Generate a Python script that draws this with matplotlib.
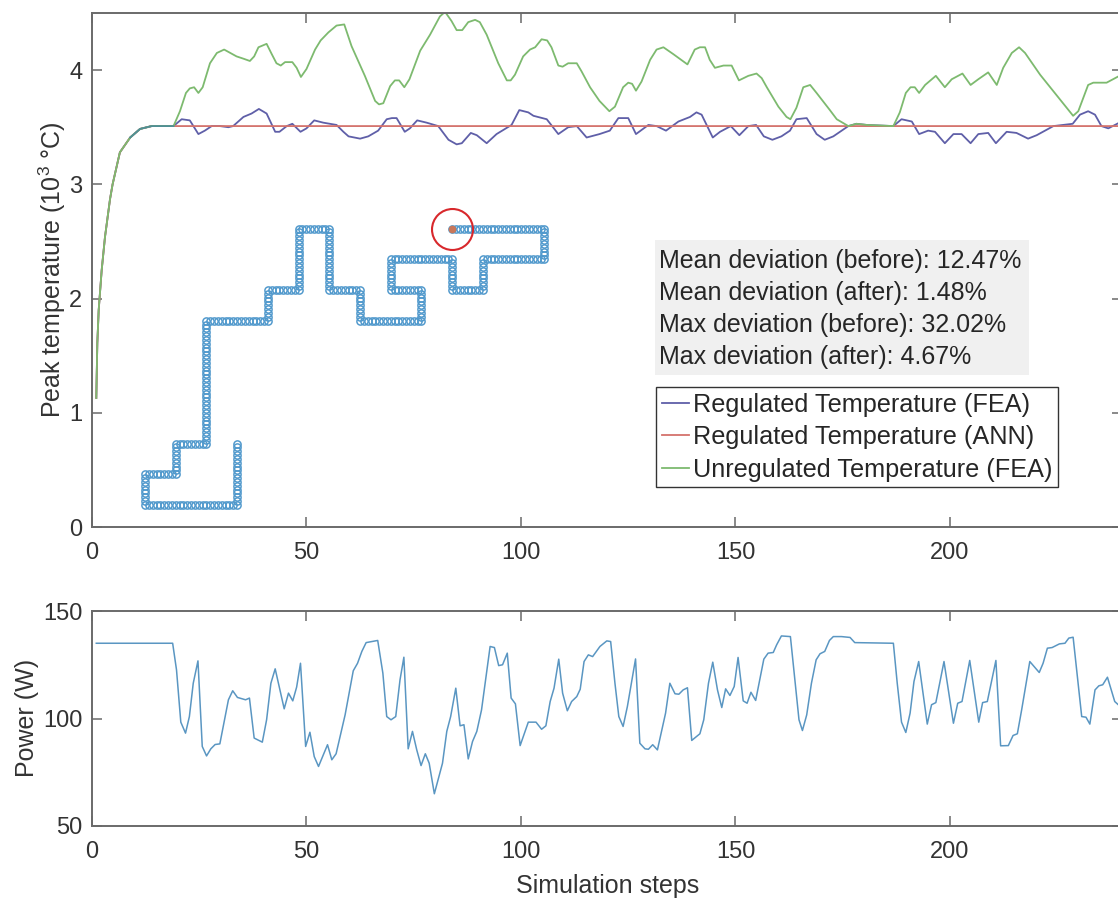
import numpy as np
import matplotlib
matplotlib.use('Agg')
import matplotlib.pyplot as plt

plt.rcParams['font.family'] = ['Liberation Sans', 'DejaVu Sans']
plt.rcParams['mathtext.default'] = 'regular'

# Peak temperature, shared warm-up part (steps, 10^3 C)
rise_x = [1, 1.24, 1.56, 2.26, 3.03, 4.2, 4.8, 6.5, 8.9, 11.2, 13.9, 19]
rise_y = [1.13, 1.61, 1.90, 2.25, 2.54, 2.87, 3.0, 3.28, 3.41, 3.485, 3.51, 3.51]

# Unregulated temperature (FEA)
green_x = [20.5, 21.9, 22.8, 23.8, 24.8, 25.8, 27.5, 29.1, 30.8, 33.7, 35.3, 36.8, 37.8, 38.8, 40.7, 41.9, 43.0,
           44.0, 45.0, 46.7, 47.7, 48.7, 50.0, 52.0, 53.3, 55.1, 57.0, 58.8, 60.5, 63.6, 66.0, 66.9, 67.9, 69.5,
           70.6, 71.6, 72.8, 74.0, 76.5, 78.8, 81.1, 82.3, 83.8, 85.0, 86.3, 87.7, 89.3, 90.4, 92.0, 94.7, 96.7,
           97.6, 98.6, 100.5, 102.1, 103.3, 104.8, 106.1, 107.1, 108.7, 109.7, 111.0, 113.0, 114.1, 116.1, 118.3,
           120.6, 121.9, 123.8, 125.0, 125.9, 126.8, 128.1, 130.1, 131.6, 133.2, 135.5, 138.8, 140.5, 141.7, 142.9,
           144.0, 145.2, 147.2, 149.1, 150.8, 153.0, 154.9, 156.1, 157.3, 160.0, 161.9, 162.8, 164.2, 165.8, 167.4,
           168.9, 172.0, 173.6, 176.3, 178.2, 180.6, 186.8, 188.3, 189.7, 190.8, 191.8, 192.8, 194.2, 196.7, 198.8,
           200.4, 202.9, 204.8, 206.6, 208.9, 210.9, 212.4, 214.4, 216.1, 217.5, 221.0, 228.7, 229.9, 232.2, 233.4,
           236.5, 240]
green_y = [3.64, 3.80, 3.84, 3.85, 3.80, 3.85, 4.06, 4.15, 4.18, 4.12, 4.10, 4.08, 4.12, 4.20, 4.23, 4.14, 4.06,
           4.04, 4.07, 4.07, 4.02, 3.94, 4.01, 4.18, 4.26, 4.33, 4.39, 4.40, 4.21, 3.95, 3.73, 3.70, 3.71, 3.86,
           3.91, 3.91, 3.85, 3.92, 4.17, 4.31, 4.47, 4.51, 4.43, 4.35, 4.35, 4.42, 4.44, 4.42, 4.31, 4.06, 3.91,
           3.91, 3.96, 4.12, 4.18, 4.20, 4.27, 4.26, 4.20, 4.04, 4.03, 4.06, 4.06, 3.99, 3.85, 3.73,
           3.64, 3.68, 3.85, 3.89, 3.88, 3.82, 3.90, 4.09, 4.18, 4.20, 4.14, 4.05, 4.18, 4.20, 4.20,
           4.09, 4.02, 4.04, 4.04, 3.91, 3.95, 3.97, 3.93, 3.85, 3.68, 3.59, 3.57, 3.67, 3.85, 3.87,
           3.80, 3.65, 3.57, 3.51, 3.53, 3.52, 3.51, 3.63, 3.80, 3.85, 3.85, 3.80, 3.87, 3.95, 3.85,
           3.92, 3.97, 3.87, 3.92, 3.98, 3.87, 4.02, 4.15, 4.20, 4.15, 3.96, 3.60, 3.64, 3.87, 3.89,
           3.89, 3.96]

# Regulated temperature (FEA)
blue_x = [20.9, 22.8, 24.8, 26.3, 27.9, 29.8, 31.8, 32.9, 35.3, 37.2, 38.9, 40.7, 42.7, 43.7, 45.4, 46.7, 48.6,
          50.0, 51.8, 53.9, 57.0, 58.6, 59.8, 62.5, 64.4, 66.7, 68.7, 69.9, 71.0, 72.9, 74.1, 75.8, 78.0, 80.7,
          83.1, 85.0, 86.2, 88.3, 89.7, 92.0, 94.3, 97.8, 99.6, 101.7, 102.9, 106.0, 108.7, 111.0, 113.0, 115.3,
          118.3, 120.7, 122.7, 125.0, 126.8, 129.7, 131.6, 133.8, 136.7, 139.4, 140.9, 142.1, 144.7, 146.4, 148.9,
          150.9, 153.0, 154.8, 156.6, 158.6, 160.7, 162.7, 164.2, 166.6, 168.9, 170.8, 172.8, 176.3, 178.2, 180.6,
          186.8, 188.7, 191.1, 192.8, 194.9, 196.5, 198.8, 200.8, 202.7, 204.8, 206.6, 208.9, 210.7, 213.2, 215.5,
          218.2, 220.2, 224.1, 228.6, 230.3, 232.2, 233.8, 235.3, 236.9, 240]
blue_y = [3.57, 3.56, 3.44, 3.47, 3.51, 3.51, 3.50, 3.51, 3.59, 3.62, 3.66, 3.62, 3.46, 3.46, 3.51, 3.53, 3.46,
          3.49, 3.56, 3.54, 3.52, 3.46, 3.42, 3.40, 3.42, 3.47, 3.57, 3.58, 3.58, 3.46, 3.49, 3.56, 3.54, 3.51,
          3.39, 3.35, 3.36, 3.45, 3.43, 3.36, 3.44, 3.52, 3.65, 3.63, 3.60, 3.57, 3.44, 3.50, 3.51, 3.41,
          3.44, 3.47, 3.58, 3.58, 3.44, 3.52, 3.51, 3.47, 3.55, 3.59, 3.63, 3.61, 3.41, 3.46, 3.51,
          3.43, 3.51, 3.52, 3.42, 3.39, 3.42, 3.47, 3.57, 3.58, 3.44, 3.39, 3.42, 3.51, 3.53, 3.52,
          3.51, 3.57, 3.55, 3.44, 3.47, 3.46, 3.36, 3.44, 3.44, 3.36, 3.44, 3.45, 3.36, 3.46, 3.45,
          3.40, 3.43, 3.51, 3.53, 3.61, 3.64, 3.61, 3.51, 3.49, 3.55]

# Regulated temperature (ANN) sits on the set point
red_x = [19, 240]
red_y = [3.51, 3.51]

# Laser power
power_x = [1, 18.8, 19.7, 20.7, 21.8, 22.7, 23.6, 24.7, 25.7, 26.7, 27.7, 28.7, 29.8, 31.8, 32.8, 33.9, 35.8, 36.7,
           37.8, 39.7, 40.7, 41.7, 42.7, 44.8, 45.8, 46.8, 47.7, 48.6, 49.8, 50.8, 51.8, 52.8, 54.9, 55.9, 56.9,
           59.0, 60.9, 61.9, 62.9, 63.9, 66.6, 67.8, 68.7, 69.7, 70.8, 71.8, 72.7, 73.7, 74.7, 75.7, 76.7, 77.7,
           78.6, 79.8, 81.7, 82.7, 83.6, 84.8, 85.8, 86.7, 87.7, 88.7, 89.7, 90.8, 92.8, 93.8, 94.8, 95.7, 96.8,
           97.7, 98.7, 99.8, 101.7, 103.5, 104.8, 105.8, 106.8, 107.7, 108.8, 109.7, 110.8, 111.8, 113.0, 113.8,
           114.7, 115.7, 116.7, 118.4, 120.0, 120.9, 121.9, 122.8, 123.8, 124.8, 126.7, 127.7, 128.9, 129.7, 130.7,
           131.8, 133.7, 134.7, 135.9, 136.8, 137.8, 138.8, 139.8, 141.7, 142.6, 143.7, 144.7, 145.8, 146.8, 147.7,
           148.7, 149.7, 150.6, 151.8, 152.7, 153.6, 154.7, 156.6, 157.6, 158.8, 159.6, 160.7, 162.8, 164.8, 165.6,
           166.6, 167.7, 168.8, 169.7, 170.8, 171.9, 172.8, 174.7, 176.7, 177.8, 186.8, 187.7, 188.7, 189.7, 190.7,
           191.6, 192.7, 194.7, 195.7, 196.7, 198.6, 200.8, 201.8, 202.8, 204.6, 206.7, 207.6, 208.7, 210.7, 211.8,
           213.6, 214.7, 215.7, 216.7, 218.6, 220.8, 221.7, 222.7, 223.8, 225.5, 226.8, 227.7, 228.7, 230.7, 231.7,
           232.6, 233.8, 234.7, 235.6, 236.7, 238.4, 240]
power_y = [135, 135, 122.6, 98.3, 93.2, 100.9, 116.4, 126.8, 87.0, 82.6, 85.9, 87.9, 88.2, 108.7, 112.9, 109.8, 108.7, 109.5,
           90.9, 89.0, 99.4, 116.4, 123.1, 104.5, 111.8, 108.2, 114.6, 125.7, 87.0, 93.6, 82.3, 77.7, 87.8, 80.8, 83.6,
           101.7, 122.2, 125.7, 131.2, 135.3, 136.3, 121.1, 100.9, 99.4, 100.9, 118.0, 128.5, 85.9, 94.0, 85.4, 78.1, 83.6,
           79.2, 65.0, 79.2, 94.0, 100.9, 114.1, 96.6, 97.1, 81.2, 89.3, 94.0, 104.0, 133.5, 133.0, 124.6, 125.0, 130.4,
           109.5, 106.8, 87.4, 98.3, 98.3, 95.0, 96.6, 107.9, 114.1, 127.6, 111.8, 103.6, 107.9, 110.2, 113.6,
           126.5, 129.6, 128.8, 133.5, 136.1, 135.8, 116.4, 100.9, 96.3, 105.6, 127.7, 88.5, 85.9, 85.7, 87.8,
           85.4, 102.5, 116.4, 111.5, 111.3, 113.3, 114.3, 89.8, 92.9, 99.4, 116.4, 126.2, 113.3, 105.1, 113.8,
           110.7, 114.9, 128.4, 108.2, 107.1, 112.2, 108.4, 127.6, 130.4, 130.7, 134.3, 138.4, 138.1, 99.4, 94.4,
           101.7, 116.4, 127.3, 130.1, 131.2, 136.3, 138.1, 138.1, 137.7, 135.3, 135, 116.4, 98.3, 93.5, 102.5,
           117.2, 126.5, 97.4, 106.4, 107.4, 126.5, 97.8, 107.1, 107.9, 127.0, 98.3, 107.4, 107.9, 127.0, 87.3,
           87.4, 92.1, 92.9, 104.0, 126.5, 121.4, 125.7, 132.7, 133.0, 134.7, 135.0, 137.4, 137.8, 100.9, 100.6,
           97.4, 113.3, 115.2, 115.7, 119.2, 107.9, 105.0]

# Scan path of the inset, as runs of dots
scan_start = [24, 16]
scan_dirs = ['D', 'L', 'U', 'R', 'U', 'R', 'U', 'R', 'U', 'R', 'U', 'R', 'D', 'R', 'D', 'R', 'U', 'L', 'U', 'R',
             'D', 'R', 'U', 'R', 'U', 'L']
scan_runs = [16, 24, 8, 8, 8, 8, 32, 16, 8, 8, 16, 8, 16, 8, 8, 16, 8, 8, 8, 16, 8, 8, 8, 16, 8, 24]

stat_lines = ['Mean deviation (before): 12.47%', 'Mean deviation (after): 1.48%',
              'Max deviation (before): 32.02%', 'Max deviation (after): 4.67%']
x_ticks = [0, 50, 100, 150, 200]
temp_ticks = [0, 1, 2, 3, 4]
power_ticks = [50, 100, 150]

W, H = 1118, 899
AX_L, AX_R = 92, 1121.6
FS = 18
TICK_FS = 17


def box(left, right, top, bottom):
    return [left / W, 1 - bottom / H, (right - left) / W, (bottom - top) / H]


def style(ax):
    for s in ax.spines.values():
        s.set_color('#6a6a6a')
        s.set_linewidth(1.4)
    ax.tick_params(direction='in', length=7, width=1.1, color='#6a6a6a', labelsize=TICK_FS,
                   labelcolor='#333333', top=True, right=True, pad=7)
    ax.tick_params(axis='x', pad=11)


fig = plt.figure(figsize=(W / 100, H / 100), dpi=100)

ax1 = fig.add_axes(box(AX_L, AX_R, 13, 527))
ax1.plot(rise_x + blue_x, rise_y + blue_y, color='#5f5fa8', lw=1.3, label='Regulated Temperature (FEA)')
ax1.plot(rise_x + red_x, rise_y + red_y, color='#d4726c', lw=1.3, label='Regulated Temperature (ANN)')
ax1.plot(rise_x + green_x, rise_y + green_y, color='#7dba6f', lw=1.3, label='Unregulated Temperature (FEA)')
ax1.plot(rise_x[8:], rise_y[8:], color='#4f8f96', lw=1.3)
ax1.set_xlim(0, 240)
ax1.set_ylim(0, 4.5)
ax1.set_xticks(x_ticks)
ax1.set_yticks(temp_ticks)
style(ax1)
ax1.set_ylabel('Peak temperature ($10^3$ °C)', fontsize=FS, color='#333333')
ax1.yaxis.set_label_coords((68 - AX_L) / (AX_R - AX_L), (527 - 270) / 514)
leg = ax1.legend(loc='upper left', bbox_to_anchor=((656 - AX_L) / (AX_R - AX_L), (527 - 387) / 514), fontsize=18.2,
                 fancybox=False, framealpha=1, edgecolor='#333333', borderaxespad=0, borderpad=0.22,
                 handlelength=1.08, handletextpad=0.16, labelspacing=0.34, labelcolor='#262626')
leg.get_frame().set_linewidth(1.0)

# grey statistics box
ax1.add_patch(plt.Rectangle(((655 - AX_L) / 4.29, (527 - 375) / 114.2), 374 / 4.29, 135 / 114.2,
                            facecolor='#f0f0f0', edgecolor='none', zorder=1))
for i, line in enumerate(stat_lines):
    ax1.text((659 - AX_L) / 4.29, (527 - (261 + 32 * i)) / 114.2, line, fontsize=FS, color='#262626',
             va='center', ha='left', zorder=3)

# inset with the scan path
steps = {'D': (0, -1), 'U': (0, 1), 'L': (-1, 0), 'R': (1, 0)}
moves = np.array([steps[d] for d in np.repeat(scan_dirs, scan_runs)])
scan = np.vstack([scan_start, scan_start + np.cumsum(moves, axis=0)])
ins = fig.add_axes(box(135, 555, 219, 515))
ins.set_xlim(-10 / 3.84, 410 / 3.84)
ins.set_ylim(-10 / 3.84, 286 / 3.84)
ins.axis('off')
ins.plot(scan[:, 0], scan[:, 1], ls='none', marker='o', ms=5.2, mfc='none', mec='#4f98cc', mew=1.05)
ins.plot(scan[-1, 0], scan[-1, 1], ls='none', marker='o', ms=4.5, color='#c9775a')
ins.plot(scan[-1, 0], scan[-1, 1], ls='none', marker='o', ms=29.5, mfc='none', mec='#d8282c', mew=1.5,
         clip_on=False)

ax2 = fig.add_axes(box(AX_L, AX_R, 611, 826))
ax2.plot(power_x, power_y, color='#5a96c2', lw=1.1)
ax2.set_xlim(0, 240)
ax2.set_ylim(50, 150)
ax2.set_xticks(x_ticks)
ax2.set_yticks(power_ticks)
style(ax2)
ax2.set_ylabel('Power (W)', fontsize=FS, color='#333333')
ax2.yaxis.set_label_coords((39 - AX_L) / (AX_R - AX_L), (826 - 718) / 215)
ax2.set_xlabel('Simulation steps', fontsize=FS, color='#333333')
ax2.xaxis.set_label_coords((608 - AX_L) / (AX_R - AX_L), (826 - 886) / 215)
ax2.xaxis.label.set_va('center')

fig.savefig('out.png', dpi=100)
